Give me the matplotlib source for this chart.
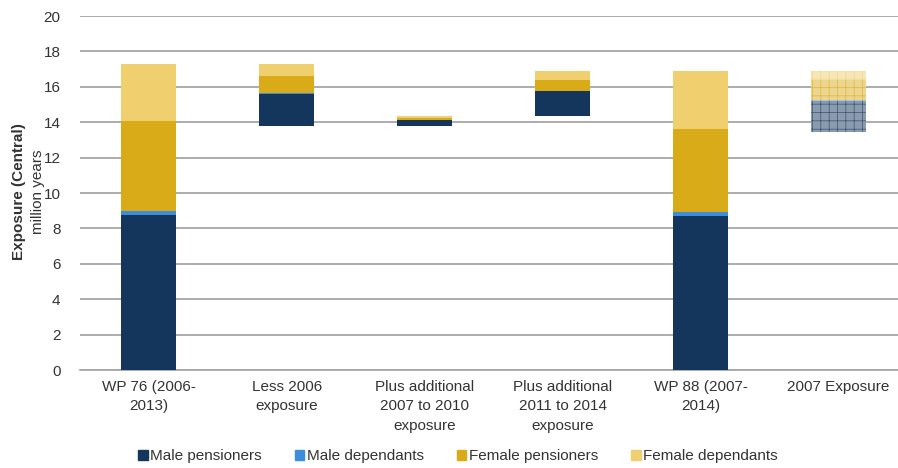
import numpy as np
import matplotlib
matplotlib.use('Agg')
import matplotlib.pyplot as plt
from matplotlib.colors import to_rgb

plt.rcParams['font.family'] = ['Liberation Sans', 'DejaVu Sans']
plt.rcParams['hatch.linewidth'] = 0.5

# Data (million years), waterfall: invisible base + stacked components
categories = ['WP 76 (2006-\n2013)', 'Less 2006\nexposure',
              'Plus additional\n2007 to 2010\nexposure',
              'Plus additional\n2011 to 2014\nexposure',
              'WP 88 (2007-\n2014)', '2007 Exposure']
base = [0, 13.80, 13.80, 14.35, 0, 13.43]
male_pens = [8.76, 1.79, 0.32, 1.41, 8.70, 1.76]
male_dep = [0.24, 0.04, 0.02, 0.02, 0.23, 0.06]
fem_pens = [5.07, 1.00, 0.12, 0.58, 4.69, 1.13]
fem_dep = [3.22, 0.66, 0.09, 0.52, 3.26, 0.50]
patterned = [False, False, False, False, False, True]

series = [('Male pensioners', male_pens, '#14365c'),
          ('Male dependants', male_dep, '#3b8ede'),
          ('Female pensioners', fem_pens, '#d9ab18'),
          ('Female dependants', fem_dep, '#efcf6e')]

def lighten(c, f):
    r = np.array(to_rgb(c))
    return tuple(r * (1 - f) + f)

fig = plt.figure(figsize=(8.98, 4.68), dpi=100)
ax = fig.add_axes([0.089, 0.2094, 0.911, 0.7564])

x = np.arange(len(categories))
width = 0.4
bottom = np.array(base, dtype=float)
handles = []
for name, vals, col in series:
    vals = np.array(vals)
    for i in range(len(x)):
        if patterned[i]:
            ax.bar(x[i], vals[i], width, bottom=bottom[i], facecolor=lighten(col, 0.5),
                   edgecolor=lighten(col, 0.15), hatch='++', linewidth=0, zorder=3)
        else:
            ax.bar(x[i], vals[i], width, bottom=bottom[i], color=col,
                   edgecolor='none', linewidth=0, zorder=3)
    handles.append(plt.Rectangle((0, 0), 1, 1, color=col, label=name))
    bottom = bottom + vals

ax.set_ylim(0, 20)
ax.set_yticks(np.arange(0, 21, 2))
ax.set_xlim(-0.5, 5.43)
ax.set_xticks(x)
ax.set_xticklabels(categories, fontsize=11, color='#333333', linespacing=1.5)
ax.tick_params(axis='y', length=0, pad=14, labelsize=11, labelcolor='#333333')
ax.tick_params(axis='x', length=0, pad=7)
ax.grid(axis='y', color='#a6a6a6', linewidth=1.3, zorder=0)
ax.set_axisbelow(True)
for s in ['top', 'right', 'left']:
    ax.spines[s].set_visible(False)
ax.spines['bottom'].set_color('#a6a6a6')
ax.spines['bottom'].set_linewidth(1.3)

fig.text(0.021, 0.590, 'Exposure (Central)', rotation=90, ha='center', va='center',
         fontsize=11, fontweight='bold', color='#333333')
fig.text(0.042, 0.590, 'million years', rotation=90, ha='center', va='center',
         fontsize=11, color='#333333')

fig.legend(handles=handles, loc='center', bbox_to_anchor=(0.51, 0.025), ncol=4,
           frameon=False, fontsize=11, handlelength=0.6, handleheight=0.6,
           handletextpad=0.15, columnspacing=2.2, labelcolor='#333333')

fig.savefig('out.png', dpi=100)
